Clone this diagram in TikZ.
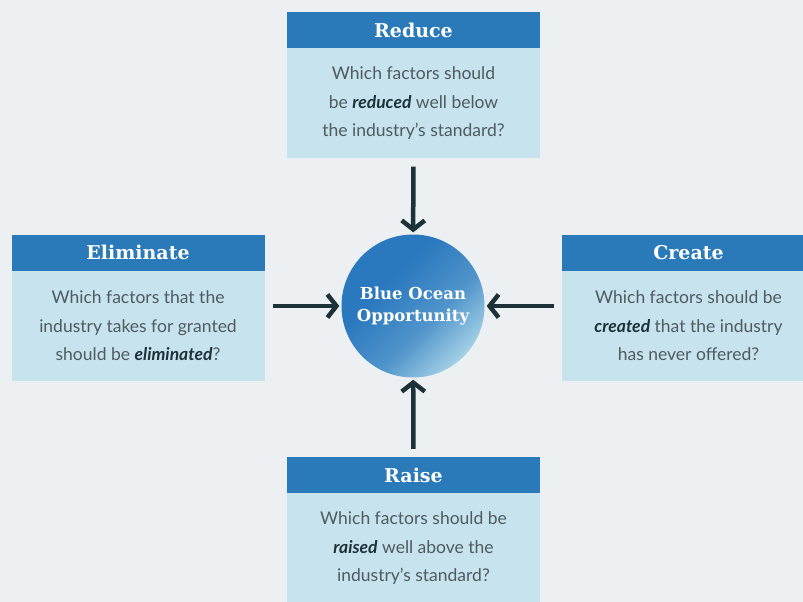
\documentclass[tikz,border=0pt]{standalone}
\usepackage{fontspec}
\setmainfont{Lato}
\newfontfamily\slabfont{DejaVu Serif}
\usepackage{tikz}
\usetikzlibrary{arrows.meta,positioning}
\definecolor{oceanbg}{HTML}{EDF0F3}
\definecolor{headblue}{HTML}{2A7AB9}
\definecolor{bodyblue}{HTML}{C6E3EE}
\definecolor{textgray}{HTML}{4F5B5F}
\definecolor{arrowdark}{HTML}{1C3238}
\definecolor{deepblue}{HTML}{2A78BE}
\definecolor{paleblue}{HTML}{A9D5E8}
\pgfdeclareverticalshading{oceanfade}{100bp}{color(0bp)=(paleblue); color(24bp)=(paleblue);
  color(42bp)=(deepblue!70!paleblue); color(62bp)=(deepblue); color(100bp)=(deepblue)}
\tikzset{head/.style={fill=headblue, text=white, minimum width=253pt, minimum height=36pt,
    inner sep=0pt, font=\slabfont\bfseries\fontsize{19}{22}\selectfont}}
\tikzset{question/.style={fill=bodyblue, text=textgray, minimum width=253pt, minimum height=110pt,
    inner sep=0pt, align=center, font=\fontsize{17.5}{28.5}\selectfont}}
\tikzset{flow/.style={draw=arrowdark, line width=4.5pt, shorten <=8pt, shorten >=2pt,
    -{Straight Barb[length=9pt,width=23pt]}}}
\newcommand{\keyword}[1]{\textcolor{arrowdark}{\textbf{\textit{#1}}}}

\begin{document}
\begin{tikzpicture}[x=1pt,y=-1pt]
\path[use as bounding box, fill=oceanbg] (0,0) rectangle (803,602);

% the four boxes
\node[head] (reducehead) at (413.5,30) {Reduce};
\node[question, below=0pt of reducehead] (reducebody) {Which factors should\\be \keyword{reduced} well below\\the industry’s standard?};

\node[head] (elimhead) at (138,252.5) {Eliminate};
\node[question, below=0pt of elimhead] (elimbody) {Which factors that the\\industry takes for granted\\should be \keyword{eliminated}?};

\node[head] (createhead) at (688.5,252.5) {Create};
\node[question, below=0pt of createhead] (createbody) {Which factors should be\\\keyword{created} that the industry\\has never offered?};

\node[head] (raisehead) at (413.5,475) {Raise};
\node[question, below=0pt of raisehead] (raisebody) {Which factors should be\\\keyword{raised} well above the\\industry’s standard?};

% centre
\node[circle, minimum size=143pt, inner sep=0pt, align=center, text=white,
  shading=oceanfade, shading angle=45,
  font=\slabfont\bfseries\fontsize{16.5}{22}\selectfont] (ocean) at (413,306) {Blue Ocean\\Opportunity};

\draw[flow] (reducebody) -- (ocean);
\draw[flow] (raisehead) -- (ocean);
\draw[flow] (elimbody.east |- ocean) -- (ocean);
\draw[flow] (createbody.west |- ocean) -- (ocean);
\end{tikzpicture}
\end{document}
